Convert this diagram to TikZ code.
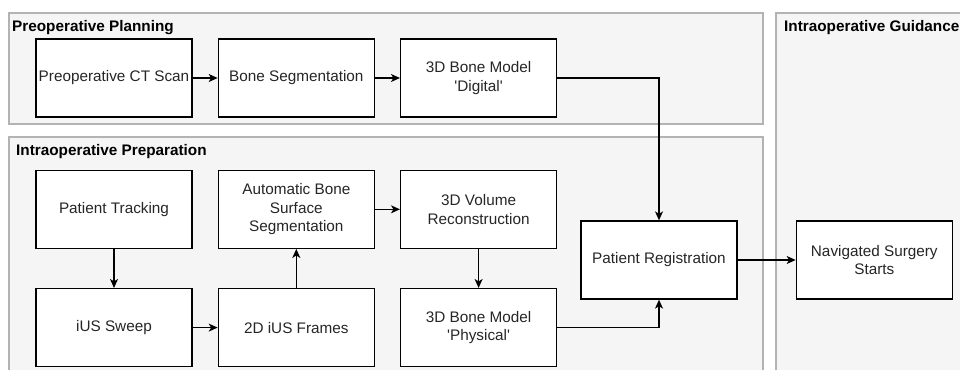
\documentclass[tikz,border=0pt]{standalone}
\usepackage{fontspec}
\newfontfamily\diafont{Liberation Sans}
\usepackage{tikz}
\usetikzlibrary{arrows.meta,positioning,backgrounds}
\definecolor{panelfill}{HTML}{F5F5F5}
\definecolor{panelline}{HTML}{B3B3B3}

\begin{document}
\begin{tikzpicture}[
  x=1bp, y=-1bp,
  sbox/.style={draw, line width=1.3bp, fill=white, align=center, inner sep=2bp,
               minimum width=156bp, minimum height=78bp, text=black!85,
               font=\diafont\fontsize{15.3bp}{18.6bp}\selectfont},
  panel/.style={draw=panelline, fill=panelfill, line width=1.3bp},
  ptitle/.style={anchor=base west, inner sep=0pt,
                 font=\diafont\bfseries\fontsize{15.3bp}{18bp}\selectfont},
  sarr/.style={-{Stealth[length=9bp, width=8bp, inset=2.5bp]}, line width=1.3bp},
  node distance=25bp
]
\useasboundingbox (0,0) rectangle (960,369);
\clip (0,0) rectangle (960,369);

% stage panels
\draw[panel] (9,13) rectangle (763,124);
\draw[panel] (9,137) rectangle (763,380);
\draw[panel] (776,13) rectangle (975,380);
\node[ptitle] (plantitle) at (12,31) {Preoperative Planning};
\node[ptitle] (preptitle) at (16,155) {Intraoperative Preparation};
\node[ptitle] (guidetitle) at (784,31) {Intraoperative Guidance};

% planning row
\node[sbox] (ctscan) at (114,78) {Preoperative CT Scan};
\node[sbox, right=of ctscan] (boneseg) {Bone Segmentation};
\node[sbox, right=of boneseg] (digital) {3D Bone Model\\'Digital'};

% preparation rows
\node[sbox, below=52bp of ctscan] (tracking) {Patient Tracking};
\node[sbox, right=of tracking] (autoseg) {Automatic Bone\\Surface\\Segmentation};
\node[sbox, right=of autoseg] (volrecon) {3D Volume\\Reconstruction};
\node[sbox, below=39bp of tracking] (sweep) {iUS Sweep};
\node[sbox, right=of sweep] (frames) {2D iUS Frames};
\node[sbox, right=of frames] (physical) {3D Bone Model\\'Physical'};

\node[sbox] (registration) at (659,260) {Patient Registration};
\node[sbox, right=58bp of registration] (navigated) {Navigated Surgery\\Starts};

\draw[sarr] (ctscan) -- (boneseg);
\draw[sarr] (boneseg) -- (digital);
\draw[sarr] (digital) -| (registration);
\draw[sarr] (tracking) -- (sweep);
\draw[sarr] (sweep) -- (frames);
\draw[sarr] (frames) -- (autoseg);
\draw[sarr] (autoseg) -- (volrecon);
\draw[sarr] (volrecon) -- (physical);
\draw[sarr] (physical) -| (registration);
\draw[sarr] (registration) -- (navigated);
\end{tikzpicture}
\end{document}
